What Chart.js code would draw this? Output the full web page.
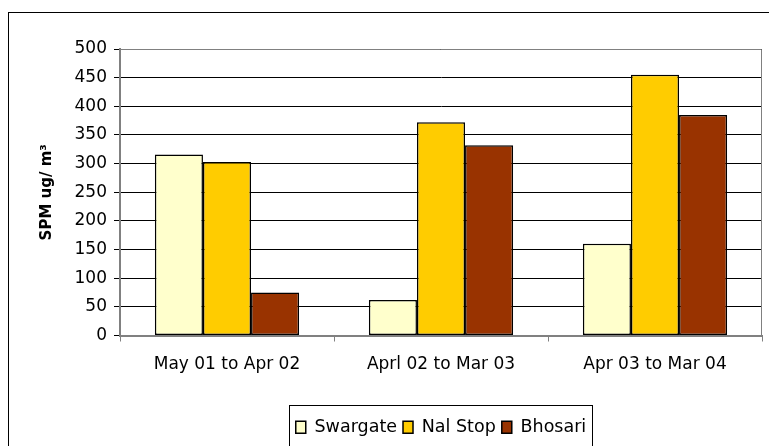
<!DOCTYPE html>
<html>
<head>
<meta charset="utf-8">
<script src="https://cdn.jsdelivr.net/npm/chart.js@4.4.1/dist/chart.umd.min.js"></script>
<style>
  html, body { margin: 0; padding: 0; background: #fff; }
  #wrap { width: 769px; height: 446px; }
</style>
</head>
<body>
<div id="wrap"><canvas id="spmChart" width="769" height="446"></canvas></div>
<script>
// Datos
const categories = ['May 01 to Apr 02', 'Aprl 02 to Mar 03', 'Apr 03 to Mar 04'];
const swargate = [316, 62, 160];
const nalStop = [303, 372, 455];
const bhosari = [75, 332, 385];
const yTicks = [0, 50, 100, 150, 200, 250, 300, 350, 400, 450, 500];

const FONT = '"DejaVu Sans", "Liberation Sans", sans-serif';

// marco exterior, borde del área de trazado y caja de la leyenda
const framePlugin = {
    id: 'frame',
    afterLayout(chart) {
        // centrar la leyenda bajo el área de trazado (no bajo todo el lienzo)
        const lg = chart.legend;
        const a = chart.chartArea;
        const dx = Math.round((a.left + a.right) / 2 - (lg.left + lg.right) / 2);
        lg.left += dx;
        lg.right += dx;
        (lg.legendHitBoxes || []).forEach(b => { b.left += dx; });
    },
    beforeDraw(chart) {
        const c = chart.ctx;
        c.save();
        c.fillStyle = '#fff';
        c.fillRect(0, 0, chart.width, chart.height);
        c.strokeStyle = '#000';
        c.lineWidth = 1;
        c.strokeRect(8.5, 12.5, 900, 600);
        c.restore();
    },
    afterDraw(chart) {
        const c = chart.ctx;
        const a = chart.chartArea;
        c.save();
        c.strokeStyle = '#808080';
        c.lineWidth = 1;
        c.beginPath();
        c.moveTo(a.left, a.top + 0.5);
        c.lineTo(a.right - 0.5, a.top + 0.5);
        c.lineTo(a.right - 0.5, a.bottom);
        c.stroke();
        const boxes = chart.legend.legendHitBoxes;
        if (boxes && boxes.length) {
            const l = Math.min(...boxes.map(b => b.left));
            const r = Math.max(...boxes.map(b => b.left + b.width));
            c.strokeStyle = '#000';
            c.strokeRect(Math.round(l) - 6.5, 405.5, Math.round(r - l) + 13, 60);
        }
        c.restore();
    }
};

const ctx = document.getElementById('spmChart').getContext('2d');
const chart = new Chart(ctx, {
    type: 'bar',
    data: {
        labels: categories,
        datasets: [
            { label: 'Swargate', data: swargate, backgroundColor: '#FFFFCC' },
            { label: 'Nal Stop', data: nalStop, backgroundColor: '#FFCC00' },
            { label: 'Bhosari', data: bhosari, backgroundColor: '#993300' }
        ]
    },
    options: {
        responsive: false,
        animation: false,
        devicePixelRatio: 1,
        layout: { padding: { left: 8, right: 7, top: 49, bottom: 0 } },
        datasets: {
            bar: {
                borderColor: '#000',
                borderWidth: 1.5,
                borderSkipped: false,
                categoryPercentage: 0.674,
                barPercentage: 1
            }
        },
        scales: {
            x: {
                grid: { display: true, offset: true, drawOnChartArea: false, color: '#808080', tickLength: 6 },
                border: { color: '#808080', width: 2 },
                ticks: { color: '#000', font: { family: FONT, size: 17 }, padding: 13, maxRotation: 0 },
                afterFit(scale) { scale.height = 77; }
            },
            y: {
                min: 0,
                max: 500,
                afterBuildTicks(scale) { scale.ticks = yTicks.map(v => ({ value: v })); },
                grid: { color: '#000', lineWidth: 1, tickLength: 6 },
                border: { color: '#808080', width: 2 },
                ticks: { color: '#000', font: { family: FONT, size: 17 }, padding: 7 },
                title: {
                    display: true,
                    text: 'SPM ug/ m³',
                    color: '#000',
                    font: { family: FONT, size: 15, weight: 'bold' },
                    padding: { top: 30, bottom: 0 }
                },
                afterFit(scale) { scale.width = 112; }
            }
        },
        plugins: {
            legend: {
                position: 'bottom',
                labels: {
                    color: '#000',
                    font: { family: FONT, size: 17.5 },
                    boxWidth: 10,
                    boxHeight: 12,
                    padding: 6,
                    useBorderRadius: false
                }
            },
            tooltip: { enabled: false }
        }
    },
    plugins: [framePlugin]
});
</script>
</body>
</html>
